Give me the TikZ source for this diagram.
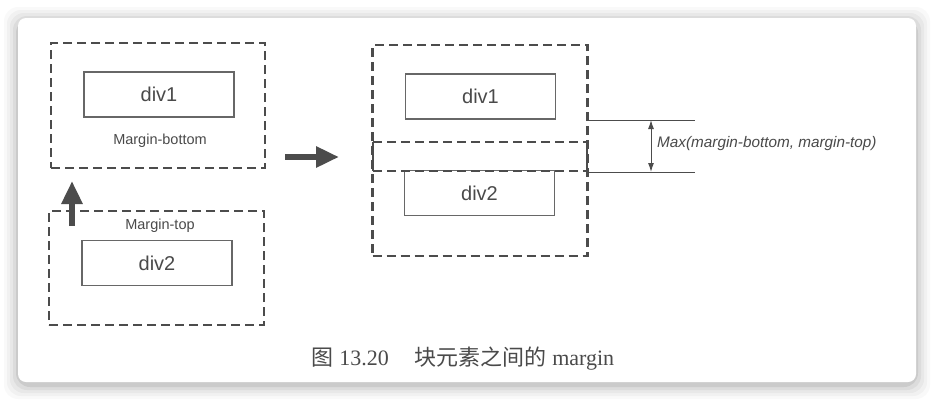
\documentclass[tikz,border=0pt]{standalone}
\usepackage{fontspec}
\setmainfont{Liberation Serif}
\setsansfont{Liberation Sans}
\newfontfamily\cjk{Noto Sans CJK SC}
\usetikzlibrary{arrows.meta}
\definecolor{ink}{HTML}{4C4C4C}
\definecolor{txt}{HTML}{4A4A4A}

\begin{document}
\begin{tikzpicture}[x=1pt, y=-1pt,
    mbox/.style={draw=ink, line width=2.3pt, dash pattern=on 9pt off 5pt, inner sep=0pt},
    divbox/.style={draw=ink!85, line width=1.2pt, inner sep=0pt, minimum width=150pt, minimum height=45pt,
      font=\sffamily\fontsize{20}{22}\selectfont, text=txt},
    lbl/.style={font=\sffamily\fontsize{14.5}{16}\selectfont, text=txt, inner sep=0pt},
    bigarrow/.style={draw=ink, line width=6.5pt, -{Triangle[length=23pt, width=20pt]}},
    dim/.style={draw=ink, line width=1pt}]
  \useasboundingbox (0,0) rectangle (934,400);
  % card with shadow
  \foreach \s/\o in {14/0.025, 11/0.03, 8/0.04, 5/0.05, 2/0.08}
    \fill[black, opacity=\o, rounded corners=14pt] (18-\s,18-\s+3) rectangle (916+\s,382+\s+3);
  \fill[white, rounded corners=8pt] (18,18) rectangle (916,382);

  % left: before collapsing
  \node[mbox, minimum width=214pt, minimum height=125pt] (m1) at (158,105.5) {};
  \node[divbox] (d1) at (159,94.5) {div1};
  \node[lbl] (mb) at (160,141) {Margin-bottom};
  \node[mbox, minimum width=215pt, minimum height=114pt] (m2) at (156.5,268) {};
  \node[lbl] (mt) at (160,226) {Margin-top};
  \node[divbox] (d2) at (157,263) {div2};
  \coordinate (ua) at (72,226);
  \coordinate (ub) at (72,181);
  \draw[bigarrow] (ua) -- (ub);

  \coordinate (ra) at (285,157);
  \coordinate (rb) at (339,157);
  \draw[bigarrow] (ra) -- (rb);

  % right: after collapsing
  \node[mbox, minimum width=215pt, minimum height=211pt] (m3) at (480,150.5) {};
  \node[divbox] (d3) at (480.5,96.5) {div1};
  \node[divbox] (d4) at (479.5,193) {div2};
  \coordinate (gl1) at (373,142);
  \coordinate (gr1) at (587,142);
  \coordinate (gl2) at (373,171);
  \coordinate (gr2) at (587,171);
  \draw[mbox] (gl1) -- (gr1);
  \draw[mbox] (gl2) -- (gr2);
  \draw[draw=ink, line width=2.8pt] (gl1) -- (gl2);
  \draw[draw=ink, line width=2.8pt] (gr1) -- (gr2);

  % margin measure
  \coordinate (h1) at (587,120);
  \coordinate (h1e) at (695,120);
  \coordinate (h2) at (587,172);
  \coordinate (h2e) at (695,172);
  \draw[dim] (h1) -- (h1e);
  \draw[dim] (h2) -- (h2e);
  \coordinate (v1) at (651,120);
  \coordinate (v2) at (651,172);
  \draw[dim, {Latex[length=9pt, width=6pt]}-{Latex[length=9pt, width=6pt]}] (v1) -- (v2);
  \node[lbl, anchor=west, font=\sffamily\itshape\fontsize{15.3}{17}\selectfont] (mx) at (657,144)
    {Max(margin-bottom, margin-top)};

  % caption
  \node[text=txt, font=\fontsize{22}{25}\selectfont, inner sep=0pt] (cap) at (463,359)
    {{\cjk 图} 13.20\hspace{26pt}{\cjk 块元素之间的} margin};
\end{tikzpicture}
\end{document}
